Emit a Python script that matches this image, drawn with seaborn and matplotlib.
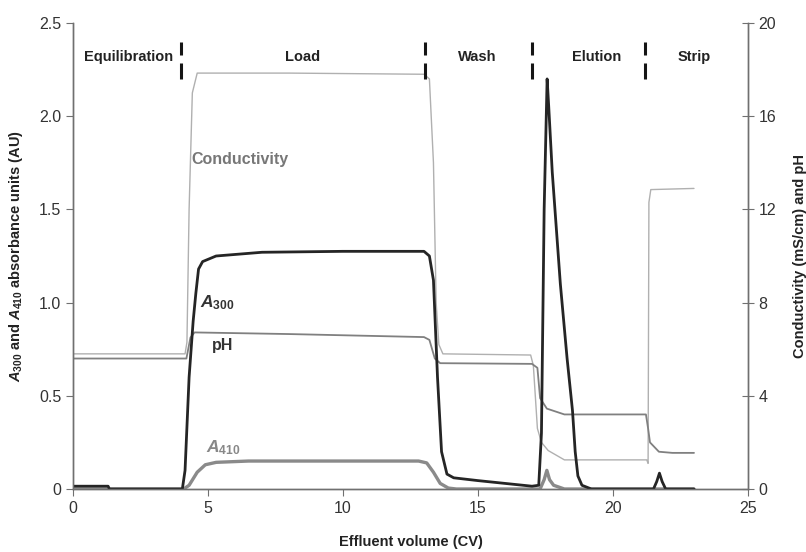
import numpy as np
import pandas as pd
import matplotlib
matplotlib.use("Agg")
import matplotlib.pyplot as plt
import seaborn as sns

# A300 absorbance (AU)
a300_cv = [0, 1.3, 1.35, 4.05, 4.15, 4.3, 4.45, 4.55, 4.65, 4.8, 5.3, 7, 10, 12, 13.0, 13.2,
           13.35, 13.5, 13.65, 13.85, 14.1, 15.0, 16.0, 17.0, 17.25, 17.35, 17.45, 17.56,
           17.62, 17.75, 18.05, 18.3, 18.5, 18.6, 18.7, 18.85, 19.2, 21.5, 21.62, 21.72,
           21.82, 21.95, 23.0]
a300_au = [0.015, 0.015, 0.0, 0.0, 0.1, 0.6, 0.9, 1.05, 1.18, 1.22, 1.25, 1.27, 1.275, 1.275,
           1.275, 1.25, 1.12, 0.6, 0.2, 0.08, 0.06, 0.045, 0.03, 0.015, 0.02, 0.3, 1.5, 2.2,
           2.05, 1.7, 1.1, 0.7, 0.42, 0.2, 0.07, 0.02, 0.0, 0.0, 0.04, 0.085, 0.04, 0.0, 0.0]

# A410 absorbance (AU)
a410_cv = [0, 4.1, 4.3, 4.6, 4.9, 5.3, 6.5, 12.8, 13.1, 13.35, 13.6, 13.9, 14.2, 17.3, 17.45,
           17.55, 17.65, 17.8, 18.2, 23.0]
a410_au = [0.0, 0.0, 0.02, 0.09, 0.13, 0.143, 0.15, 0.15, 0.14, 0.09, 0.03, 0.005, 0.0, 0.0,
           0.05, 0.1, 0.05, 0.02, 0.0, 0.0]

# Conductivity (mS/cm)
cond_cv = [0, 4.15, 4.22, 4.3, 4.42, 4.6, 8, 13.0, 13.2, 13.35, 13.45, 13.55, 13.7, 16.95,
           17.05, 17.2, 17.35, 17.6, 18.2, 21.25, 21.3, 21.33, 21.4, 23.0]
cond_ms = [5.8, 5.8, 6.3, 12.0, 17.0, 17.85, 17.85, 17.8, 17.6, 14.0, 8.0, 6.2, 5.8, 5.75,
           5.3, 2.6, 2.0, 1.65, 1.25, 1.25, 1.1, 12.3, 12.85, 12.9]

# pH
ph_cv = [0, 4.2, 4.35, 4.5, 8, 13.0, 13.2, 13.4, 13.6, 17.0, 17.2, 17.3, 17.55, 18.2, 21.22,
         21.3, 21.37, 21.7, 22.2, 23.0]
ph_val = [5.6, 5.6, 6.5, 6.72, 6.65, 6.52, 6.4, 5.6, 5.4, 5.37, 5.2, 3.9, 3.45, 3.2, 3.2,
          2.6, 2.0, 1.6, 1.55, 1.55]

phases = ["Equilibration", "Load", "Wash", "Elution", "Strip"]
phase_centers = [2.04, 8.52, 14.96, 19.4, 23.0]
phase_bounds = [4.0, 13.05, 17.0, 21.2]

sns.set_style("ticks")
plt.rcParams["font.family"] = ["Liberation Sans", "DejaVu Sans"]
plt.rcParams["mathtext.fontset"] = "custom"
plt.rcParams["mathtext.it"] = "Liberation Sans:italic:bold"
plt.rcParams["mathtext.rm"] = "Liberation Sans:bold"
plt.rcParams["mathtext.bf"] = "Liberation Sans:bold"

fig = plt.figure(figsize=(8.06, 5.52), dpi=100)
ax = fig.add_axes([73 / 806, 63 / 552, 675 / 806, 466 / 552])
ax2 = ax.twinx()

sns.lineplot(x=cond_cv, y=cond_ms, ax=ax2, color="#b0b0b0", lw=1.0, sort=False, estimator=None)
sns.lineplot(x=ph_cv, y=ph_val, ax=ax2, color="#808080", lw=1.3, sort=False, estimator=None)
sns.lineplot(x=a410_cv, y=a410_au, ax=ax, color="#8a8a8a", lw=2.4, sort=False, estimator=None)
sns.lineplot(x=a300_cv, y=a300_au, ax=ax, color="#252525", lw=2.0, sort=False, estimator=None)
ax.set_zorder(ax2.get_zorder() + 1)
ax.patch.set_visible(False)

ax.set_xlim(0, 25)
ax.set_ylim(0, 2.5)
ax2.set_ylim(0, 20)
ax.set_xticks(range(0, 26, 5))
ax.set_yticks([0, 0.5, 1.0, 1.5, 2.0, 2.5])
ax.set_yticklabels(["0", "0.5", "1.0", "1.5", "2.0", "2.5"])
ax2.set_yticks(range(0, 21, 4))

for a in (ax, ax2):
    a.spines["top"].set_visible(False)
    for s in a.spines.values():
        s.set_color("#707070")
        s.set_linewidth(1.0)
ax.tick_params(axis="both", labelsize=11.5, colors="#333333", length=5, color="#707070")
ax2.tick_params(axis="y", labelsize=11.5, colors="#333333", direction="inout", length=8,
                color="#707070")

ax.set_xlabel("Effluent volume (CV)", fontsize=10.5, fontweight="bold", color="#222222",
              labelpad=14)
ax.set_ylabel(r"$A_{\mathrm{300}}$ and $A_{\mathrm{410}}$ absorbance units (AU)",
              fontsize=10.5, fontweight="bold", color="#222222", labelpad=10)
ax2.set_ylabel("Conductivity (mS/cm) and pH", fontsize=10.5, fontweight="bold",
               color="#222222", labelpad=12)

for name, xc in zip(phases, phase_centers):
    ax.text(xc, 2.317, name, ha="center", va="center", fontsize=10.5, fontweight="bold",
            color="#222222")
for xb in phase_bounds:
    ax.vlines(xb, 2.33, 2.40, color="#151515", lw=2.2)
    ax.vlines(xb, 2.20, 2.285, color="#151515", lw=2.2)

ax.text(4.4, 1.77, "Conductivity", ha="left", va="center", fontsize=11.5,
        fontweight="bold", color="#777777")
ax.text(4.7, 1.0, r"$A_{\mathrm{300}}$", ha="left", va="center", fontsize=12.5,
        color="#333333")
ax.text(5.56, 0.77, "pH", ha="center", va="center", fontsize=11.5, fontweight="bold",
        color="#333333")
ax.text(4.93, 0.22, r"$A_{\mathrm{410}}$", ha="left", va="center", fontsize=12.5,
        color="#888888")

fig.savefig("out.png", dpi=100)
